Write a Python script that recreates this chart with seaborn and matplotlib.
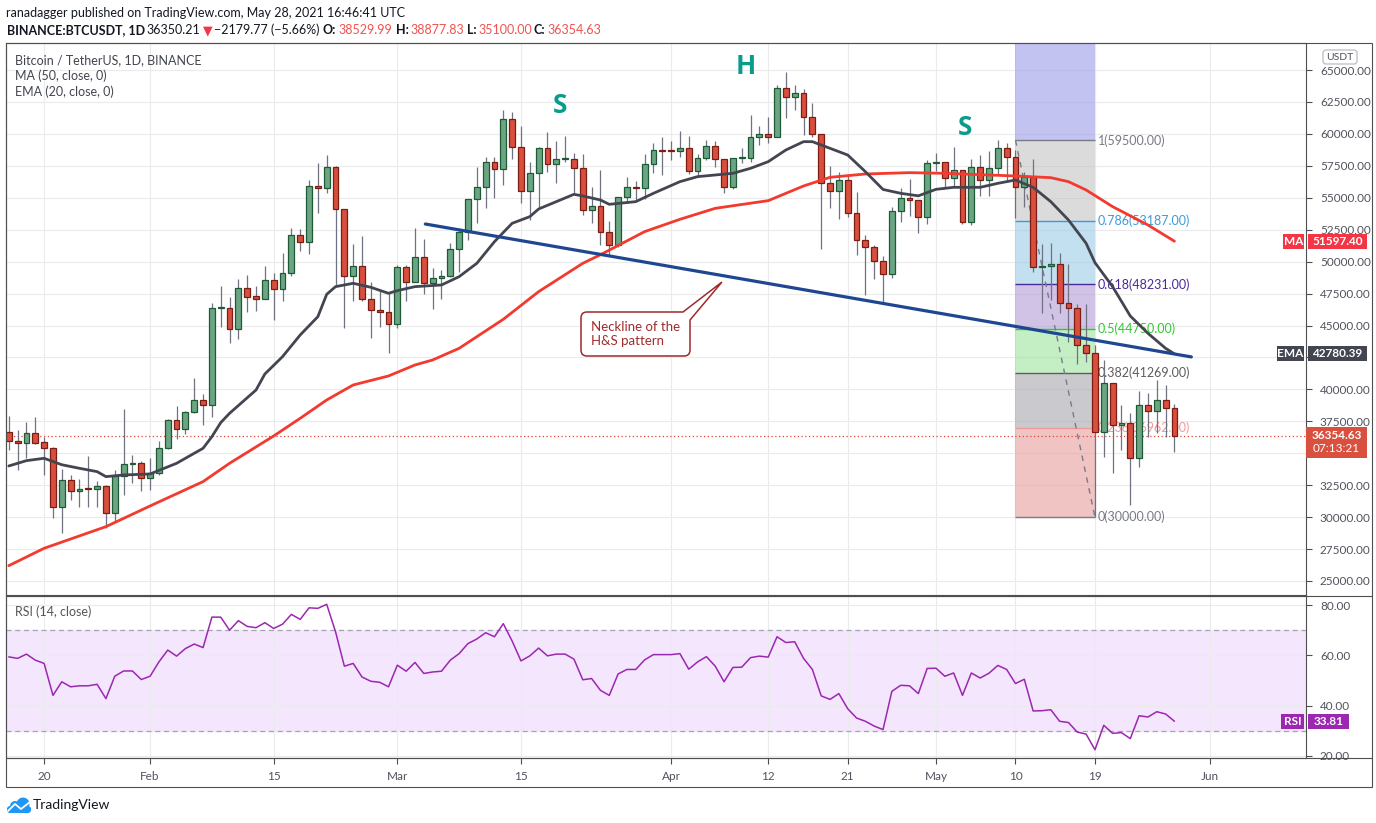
import numpy as np
import pandas as pd
import matplotlib
matplotlib.use("Agg")
import matplotlib.pyplot as plt
import matplotlib.dates as mdates
from matplotlib.patches import Rectangle, FancyBboxPatch, PathPatch, Circle
from matplotlib.path import Path
from matplotlib.lines import Line2D
from matplotlib.ticker import FuncFormatter
from matplotlib.transforms import IdentityTransform
import seaborn as sns

W, H = 1376, 823

# ---------------------------
# Data
# ---------------------------
start = "2021-01-16"

opens = [36640, 35936, 35780, 36562, 35858, 35389, 30770, 32883, 32022, 32230,
         32205, 32413, 30300, 33247, 34135, 34213, 33039, 33430, 35389, 37580,
         36876, 38206, 39145, 38754, 46346, 46400, 44755, 47911, 47285, 47102,
         48537, 47833, 49085, 52060, 51512, 55895, 55790, 57382, 54094, 48850,
         49633, 47050, 46215, 46033, 45093, 49555, 48381, 50337, 48303, 48694,
         48877, 50964, 52347, 54877, 55817, 57773, 57225, 61139, 58947, 55556,
         56912, 58869, 57643, 58008, 58060, 57304, 54043, 54356, 52295, 51303,
         55034, 55817, 55739, 57617, 58713, 58686, 58660, 58921, 57095, 58139,
         59078, 58034, 55869, 58087, 58113, 59730, 59965, 59782, 63565, 62913,
         63174, 61296, 59965, 56130, 55556, 56391, 53782, 51695, 51120, 50052,
         49008, 53964, 54956, 54825, 53520, 57695, 57774, 56521, 57173, 53130,
         57382, 56390, 57303, 58869, 58217, 55817, 56651, 49555, 49660, 49790,
         46737, 46346, 43476, 42824, 36640, 40476, 37214, 37400, 34604, 38780,
         38310, 39171, 38530]

highs = [37920, 36820, 37450, 37870, 36300, 35520, 33744, 33300, 32988, 34762,
         32830, 32517, 33690, 38467, 34866, 34423, 34605, 35989, 37700, 38700,
         38300, 40920, 39640, 46737, 48094, 47260, 48642, 48955, 48094, 49685,
         49085, 50677, 52634, 52556, 56390, 57695, 58347, 57486, 54150, 51380,
         52010, 48433, 47700, 47520, 49737, 49737, 52634, 51772, 49477, 49346,
         51460, 52608, 54900, 57434, 58165, 58165, 61869, 61687, 60617, 57825,
         58947, 60174, 59469, 59860, 58478, 58400, 55817, 57174, 53208, 55034,
         56652, 56339, 58400, 59260, 59782, 59443, 60226, 59834, 58400, 59521,
         59469, 58034, 58087, 58869, 61478, 60643, 61348, 63826, 64818, 63826,
         63487, 62443, 59965, 57487, 57043, 56782, 55478, 52100, 51304, 50443,
         54300, 55738, 56469, 54825, 57956, 58530, 57774, 58948, 57173, 58000,
         58348, 58660, 59522, 59313, 58739, 57000, 58008, 51381, 51434, 50650,
         49790, 46685, 46659, 43476, 42302, 40476, 38780, 38180, 39876, 39693,
         40736, 40345, 38878]

lows = [35260, 33690, 34605, 35700, 33300, 29960, 28735, 31345, 30770, 30770,
        30770, 29127, 29726, 31735, 32700, 32074, 32126, 33300, 35350, 36093,
        36480, 38120, 37215, 37867, 44912, 43660, 43920, 46059, 46163, 47050,
        45433, 46946, 48903, 50860, 50600, 53833, 55400, 48200, 44832, 46946,
        46946, 44050, 44911, 42875, 44832, 46946, 48381, 47442, 46268, 47050,
        48800, 49216, 51695, 53000, 54225, 54955, 56000, 58008, 54565, 53260,
        54304, 56991, 56182, 57826, 55347, 53625, 53000, 51303, 50520, 51173,
        54565, 54773, 54877, 56913, 56782, 57956, 58217, 56834, 56600, 57956,
        57382, 55400, 55700, 57695, 57826, 59130, 59260, 59730, 61217, 61869,
        59913, 59782, 51000, 54173, 53313, 53500, 50520, 47390, 48617, 46868,
        48700, 53130, 53573, 52269, 52947, 57095, 55800, 55817, 52947, 52869,
        55164, 55164, 56860, 56260, 53390, 54304, 49216, 45955, 46998, 45955,
        43737, 41963, 42172, 30000, 34735, 33430, 35258, 30952, 33952, 36300,
        36561, 36300, 35100]

closes = [35936, 35780, 36562, 35780, 35389, 30770, 32883, 32022, 32205, 32180,
          32413, 30300, 33247, 34135, 34213, 33039, 33430, 35389, 37580, 36876,
          38206, 39145, 38754, 46346, 46400, 44755, 47911, 47207, 47102, 48537,
          47833, 49085, 52060, 51512, 55895, 55790, 57382, 54094, 48850, 49633,
          47050, 46215, 46033, 45093, 49555, 48381, 50337, 48303, 48694, 48877,
          50964, 52347, 54877, 55817, 57773, 57225, 61139, 58947, 55556, 56912,
          58869, 57643, 58008, 58060, 57304, 54043, 54356, 52295, 51303, 55034,
          55817, 55739, 57617, 58713, 58686, 58660, 58921, 57095, 58139, 59078,
          58034, 55869, 58087, 58113, 59730, 59965, 59782, 63565, 62913, 63174,
          61296, 59965, 56130, 55556, 56391, 53782, 51695, 51120, 50052, 49008,
          53964, 54956, 54825, 53520, 57695, 57774, 56521, 57173, 53130, 57382,
          56390, 57303, 58869, 58217, 55817, 56651, 49555, 49660, 49790, 46737,
          46346, 43476, 42824, 36640, 40476, 37214, 37400, 34604, 38780, 38310,
          39171, 38530, 36354.63]

rsi = [59.4, 58.8, 60.5, 58.1, 56.8, 44.1, 49.5, 47.5, 47.9, 47.9,
       48.5, 42.8, 51.7, 53.8, 53.8, 50.4, 51.7, 57.4, 62.1, 59.7,
       62.7, 64.5, 63.1, 75.2, 75.2, 70.0, 73.8, 71.5, 71.0, 73.0,
       70.7, 72.4, 76.3, 74.3, 78.9, 78.7, 80.3, 69.4, 55.7, 56.8,
       51.4, 49.7, 49.3, 47.5, 56.1, 53.7, 57.2, 52.8, 53.4, 53.7,
       58.1, 60.7, 64.7, 66.5, 69.0, 67.4, 72.6, 65.7, 57.8, 59.8,
       62.9, 59.8, 60.5, 60.5, 58.5, 50.3, 50.8, 46.1, 44.1, 52.6,
       54.4, 54.4, 58.2, 60.3, 60.3, 60.3, 60.7, 54.5, 57.4, 59.5,
       55.7, 49.5, 55.2, 55.3, 59.1, 59.7, 59.3, 67.4, 65.1, 65.4,
       58.8, 54.4, 43.9, 42.5, 44.8, 38.8, 35.1, 33.8, 31.9, 30.5,
       45.7, 48.1, 47.9, 44.8, 54.8, 54.9, 51.7, 53.0, 44.1, 53.0,
       51.0, 52.9, 56.0, 54.4, 48.8, 50.5, 37.9, 38.0, 38.4, 33.8,
       33.3, 29.5, 28.7, 22.5, 32.2, 29.0, 29.3, 26.9, 36.0, 35.5,
       37.6, 36.7, 33.81]

# MA(50) and EMA(20), read at sample days (days after start)
ma_days = [0, 4, 11, 16, 22, 25, 30, 33, 36, 39, 43, 46, 48, 51, 56, 60, 65, 67,
           72, 76, 80, 86, 90, 93, 97, 102, 106, 114, 118, 120, 122, 125, 129, 132]
ma_vals = [26200, 27560, 29255, 30875, 32780, 34214, 36353, 37736, 39171, 40345,
           41050, 41910, 42302, 43215, 45486, 47650, 49868, 50540, 52347, 53312,
           54173, 54773, 55921, 56600, 56860, 56965, 56912, 56704, 56573, 56260,
           55608, 54304, 52869, 51597.4]

ema_days = [0, 2, 4, 6, 8, 10, 11, 13, 16, 19, 22, 23, 24, 25, 28, 29, 31, 33, 35,
            36, 37, 39, 41, 43, 44, 46, 49, 51, 53, 55, 57, 59, 60, 62, 64, 65, 67,
            68, 71, 73, 76, 78, 82, 84, 86, 88, 90, 91, 93, 95, 97, 99, 101, 103,
            105, 107, 110, 112, 114, 116, 118, 120, 122, 123, 125, 127, 129, 131, 132]
ema_vals = [34005, 34422, 34605, 34100, 33822, 33561, 33170, 33300, 33378, 34213,
            35389, 36300, 37397, 38127, 39954, 41206, 42563, 44259, 45693, 47441,
            48042, 48303, 47990, 47520, 47729, 48042, 48172, 48825, 49868, 51564,
            53000, 53520, 54121, 54695, 55269, 55139, 54825, 54486, 54695, 55347,
            56260, 56652, 56913, 57304, 57826, 58739, 59391, 59391, 58869, 58347,
            57043, 55650, 55347, 55150, 55660, 55816, 55816, 56130, 56390, 55816,
            54695, 53260, 51434, 49920, 48042, 45746, 44389, 43215, 42780.39]

# Drawings
neck_dates = ["2021-03-04 04:00", "2021-05-29 22:00"]
neck_prices = [52945, 42540]
fib_dates = ["2021-05-10", "2021-05-19"]
fib_high, fib_low = 59500, 30000
fib_ratios = [1.618, 1, 0.786, 0.618, 0.5, 0.382, 0.236, 0]
hs_labels = ["S", "H", "S"]
hs_dates = ["2021-03-19 09:00", "2021-04-09 10:00", "2021-05-04 07:00"]
hs_prices = [62260, 65313, 60538]
last_price = 36354.63

tick_dates = ["2021-01-20", "2021-02-01", "2021-02-15", "2021-03-01", "2021-03-15",
              "2021-04-01", "2021-04-12", "2021-04-21", "2021-05-01", "2021-05-10",
              "2021-05-19", "2021-06-01"]
tick_labels = ["20", "Feb", "15", "Mar", "15", "Apr", "12", "21", "May", "10", "19", "Jun"]
price_ticks = list(range(25000, 65001, 2500))
rsi_ticks = [20, 40, 60, 80]

# ---------------------------
# Style
# ---------------------------
sns.set_theme(style="white")
plt.rcParams["font.family"] = ["Lato", "DejaVu Sans"]

GREEN, GREEN_E = "#6ba583", "#1f5a37"
RED, RED_E = "#d84f3e", "#7c1d14"
MA_C, EMA_C, RSI_C = "#f23a2f", "#434651", "#9c27b0"
TXT = "#50535e"
FRAME = "#4f4f4f"
GRID = "#ebebeb"

fig = plt.figure(figsize=(W / 100, H / 100), dpi=100)
fig.patch.set_facecolor("white")


def fbox(x0, y0, x1, y1):
    return [x0 / W, 1 - y1 / H, (x1 - x0) / W, (y1 - y0) / H]


ax = fig.add_axes(fbox(6, 43, 1306, 595))
axr = fig.add_axes(fbox(6, 596, 1306, 758), sharex=ax)

t0 = mdates.date2num(pd.Timestamp(start))
ax.set_xlim(t0 - 0.317, t0 + 146.9)
ax.set_ylim(23904, 67114)
axr.set_ylim(19.2, 83.6)

dates = pd.date_range(start, periods=len(closes), freq="D")
x = mdates.date2num(dates)
o = np.array(opens, float)
c = np.array(closes, float)
hi = np.array(highs, float)
lo = np.array(lows, float)
up = c >= o

# grids
xt = mdates.date2num(pd.to_datetime(tick_dates))
for a in (ax, axr):
    a.set_facecolor("white")
    a.set_axisbelow(True)
    a.set_xticks(xt)
    a.grid(True, color=GRID, linewidth=0.8)
    for s in a.spines.values():
        s.set_color(FRAME)
        s.set_linewidth(0.8)
ax.set_yticks(price_ticks)
axr.set_yticks(rsi_ticks)

# fib retracement zones (under the candles)
fx0, fx1 = mdates.date2num(pd.to_datetime(fib_dates))
fib_levels = [fib_low + r * (fib_high - fib_low) for r in fib_ratios]
zone_cols = ["#9292e9", "#bfbfbf", "#92c8e7", "#ab92d3", "#95e095", "#9f9fa6", "#e69494"]
line_cols = ["#787b86", "#787b86", "#3d9ad9", "#4a2a9a", "#2fc92f", "#5d5d5d", "#ef9a9a", "#787b86"]
for i in range(len(fib_levels) - 1):
    ax.add_patch(Rectangle((fx0, fib_levels[i + 1]), fx1 - fx0, fib_levels[i] - fib_levels[i + 1],
                           facecolor=zone_cols[i], alpha=0.55, edgecolor="none", zorder=1))
for r, lv, col in zip(fib_ratios[1:], fib_levels[1:], line_cols[1:]):
    ax.hlines(lv, fx0, fx1, color=col, linewidth=1.0, zorder=1.5)
    ax.text(fx1 + 0.35, lv, f"{r:g}({lv:.2f})", color=col, fontsize=9,
            va="center", ha="left", zorder=1.6)
ax.plot([fx0, fx1], [fib_high, fib_low], color="#787b86", linewidth=1.0,
        linestyle=(0, (4, 4)), zorder=1.7)

# last price dotted line
ax.axhline(last_price, color="#e0453a", linewidth=0.9, linestyle=(0, (1, 2)), zorder=2)

# candles
ax.vlines(x, lo, hi, color="#6f7280", linewidth=0.9, zorder=3)
bottom = np.minimum(o, c)
height = np.maximum(np.abs(c - o), 90)
ax.bar(x[up], height[up], bottom=bottom[up], width=0.66, color=GREEN,
       edgecolor=GREEN_E, linewidth=0.9, zorder=4)
ax.bar(x[~up], height[~up], bottom=bottom[~up], width=0.66, color=RED,
       edgecolor=RED_E, linewidth=0.9, zorder=4)

# moving averages
ma_x = mdates.date2num(pd.Timestamp(start) + pd.to_timedelta(ma_days, unit="D"))
ema_x = mdates.date2num(pd.Timestamp(start) + pd.to_timedelta(ema_days, unit="D"))
sns.lineplot(x=ma_x, y=ma_vals, ax=ax, color=MA_C, linewidth=2.0, zorder=5)
sns.lineplot(x=ema_x, y=ema_vals, ax=ax, color=EMA_C, linewidth=2.0, zorder=5)

# neckline
nx = mdates.date2num(pd.to_datetime(neck_dates))
ax.plot(nx, neck_prices, color="#1f4690", linewidth=2.3, solid_capstyle="round", zorder=6)

# H&S letters
for lab, d, p in zip(hs_labels, mdates.date2num(pd.to_datetime(hs_dates)), hs_prices):
    ax.text(d, p, lab, color="#089c8b", fontsize=19, fontweight="bold",
            ha="center", va="center", family=["Open Sans", "DejaVu Sans"], zorder=7)

# RSI panel
axr.axhspan(30, 70, color="#f3e6fd", zorder=0.2)
for lv in (70, 30):
    axr.axhline(lv, color="#a3a6af", linewidth=0.9, linestyle=(0, (4, 3)), zorder=1)
sns.lineplot(x=x, y=rsi, ax=axr, color=RSI_C, linewidth=1.1, zorder=3)


def ypix(a, val):
    return H - a.transData.transform((t0, val))[1]


# price tags (pixel rows), tick labels hidden where a tag covers them
y_ma = ypix(ax, ma_vals[-1])
y_ema = ypix(ax, ema_vals[-1])
y_last = ypix(ax, last_price)
y_rsi = ypix(axr, rsi[-1])
tag_spans = [(y_ma - 7.5, y_ma + 7.5), (y_ema - 7.5, y_ema + 7.5), (y_last - 9, y_last + 22)]
hidden = [v for v in price_ticks if any(a0 <= ypix(ax, v) <= a1 for a0, a1 in tag_spans)]

# ticks and labels
ax.yaxis.set_major_formatter(FuncFormatter(lambda v, p: "" if v in hidden else f"{v:.2f}"))
axr.yaxis.set_major_formatter(FuncFormatter(lambda v, p: f"{v:.2f}"))
for a in (ax, axr):
    a.tick_params(axis="y", left=False, right=True, labelleft=False, labelright=True,
                  length=4, width=0.8, color=FRAME, labelsize=8.5, labelcolor=TXT, pad=6)
    a.set_xlabel("")
    a.set_ylabel("")
ax.tick_params(axis="x", bottom=False, labelbottom=False)
axr.set_xticklabels(tick_labels)
axr.tick_params(axis="x", bottom=True, labelbottom=True, length=4, width=0.8,
                color=FRAME, labelsize=8.5, labelcolor=TXT, pad=5)

# ---------------------------
# Frame, header and overlays (pixel coordinates)
# ---------------------------
ID = IdentityTransform()


def px(xp, yp):
    return xp, H - yp


fig.add_artist(Rectangle(px(6, 787), 1366, 744, fill=False, edgecolor=FRAME,
                         linewidth=0.8, transform=ID))
for yl in (595.5, 758):
    fig.add_artist(Line2D([6, 1372], [H - yl, H - yl], color=FRAME, linewidth=0.8, transform=ID))

fig.text(*px(6, 13), "ranadagger published on TradingView.com, May 28, 2021 16:46:41 UTC",
         transform=ID, fontsize=9, color="#131722", va="center", ha="left")

renderer = fig.canvas.get_renderer()
header = [("BINANCE:BTCUSDT, 1D", 6.7, "bold", "#131722"),
          ("36350.21", 145, "normal", "#131722"),
          ("\u25bc", 200, "normal", "#f23645"),
          ("\u22122179.77 (\u22125.66%)", 213, "normal", "#131722"),
          ("O:", 322.7, "bold", "#131722"), ("38529.99", 338, "normal", "#ef5350"),
          ("H:", 396, "bold", "#131722"), ("38877.83", 410, "normal", "#ef5350"),
          ("L:", 465.6, "bold", "#131722"), ("35100.00", 477.7, "normal", "#ef5350"),
          ("C:", 533.5, "bold", "#131722"), ("36354.63", 547, "normal", "#ef5350")]
xcur = 0
for s, xp, wgt, col in header:
    xs = max(xp, xcur)
    t = fig.text(*px(xs, 30), s, transform=ID, fontsize=9, fontweight=wgt, color=col,
                 va="center", ha="left")
    xcur = t.get_window_extent(renderer).x1 + 2

for s, yp in (("Bitcoin / TetherUS, 1D, BINANCE", 60), ("MA (50, close, 0)", 76),
              ("EMA (20, close, 0)", 92)):
    fig.text(*px(15, yp), s, transform=ID, fontsize=9, color="#434651", va="center")
fig.text(*px(15, 612), "RSI (14, close)", transform=ID, fontsize=9, color="#555",
         va="center")

# callout box
P = Path
verts = [(587, 312), (683, 312), (722, 282), (690, 320), (690, 350), (690, 356), (684, 356),
         (587, 356), (581, 356), (581, 350), (581, 318), (581, 312), (587, 312)]
codes = [P.MOVETO, P.LINETO, P.LINETO, P.LINETO, P.LINETO, P.CURVE3, P.CURVE3,
         P.LINETO, P.CURVE3, P.CURVE3, P.LINETO, P.CURVE3, P.CURVE3]
fig.add_artist(PathPatch(Path([px(*v) for v in verts], codes), facecolor="white",
                         edgecolor="#9f2a2a", linewidth=1.1, transform=ID))
fig.text(*px(591, 327), "Neckline of the", transform=ID, fontsize=9.5, color="#a02c2c", va="center")
fig.text(*px(591, 341), "H&S pattern", transform=ID, fontsize=9.5, color="#a02c2c", va="center")


def tag(x0, x1, yc, h, txt, fc, size=8.5, bold=True):
    fig.add_artist(Rectangle(px(x0, yc + h / 2), x1 - x0, h, facecolor=fc,
                             edgecolor="none", transform=ID))
    fig.text(*px((x0 + x1) / 2, yc), txt, transform=ID, ha="center", va="center",
             color="white", fontsize=size, fontweight="bold" if bold else "normal")


tag(1283, 1304, y_ma, 15, "MA", "#f23645")
tag(1308, 1367, y_ma, 15, f"{ma_vals[-1]:.2f}", "#f23645")
tag(1277, 1304, y_ema, 15, "EMA", "#434651")
tag(1308, 1367, y_ema, 15, f"{ema_vals[-1]:.2f}", "#434651")
fig.add_artist(Rectangle(px(1306, y_last + 22), 61, 31, facecolor="#d9503f",
                         edgecolor="none", transform=ID))
fig.text(*px(1336.5, y_last), f"{last_price:.2f}", transform=ID, ha="center", va="center",
         color="white", fontsize=8.5, fontweight="bold")
fig.text(*px(1336.5, y_last + 13), "07:13:21", transform=ID, ha="center", va="center",
         color="white", fontsize=8.5)
tag(1281, 1304, y_rsi, 15, "RSI", RSI_C)
tag(1308, 1349, y_rsi, 15, f"{rsi[-1]:.2f}", RSI_C)

# currency box
fig.add_artist(FancyBboxPatch(px(1323, 64), 34, 14, boxstyle="round,pad=0,rounding_size=3",
                              facecolor="white", edgecolor="#b2b5be", linewidth=0.8, transform=ID))
fig.text(*px(1340, 57), "USDT", transform=ID, ha="center", va="center", fontsize=7.5, color=TXT)

# TradingView logo
LOGO = "#2196f3"
fig.add_artist(FancyBboxPatch(px(7, 813), 24, 7, boxstyle="round,pad=0,rounding_size=3",
                              facecolor=LOGO, edgecolor="none", transform=ID))
fig.add_artist(Circle(px(15, 806), 5, facecolor=LOGO, edgecolor="none", transform=ID))
fig.add_artist(Circle(px(23, 804), 6.5, facecolor=LOGO, edgecolor="none", transform=ID))
fig.add_artist(Line2D([8, 15, 21, 30], [H - 811, H - 804, H - 809, H - 802], color="white",
                      linewidth=1.3, transform=ID))
fig.text(*px(33, 805), "TradingView", transform=ID, fontsize=10, color="#131722", va="center")

fig.savefig("out.png", dpi=100, facecolor="white")
